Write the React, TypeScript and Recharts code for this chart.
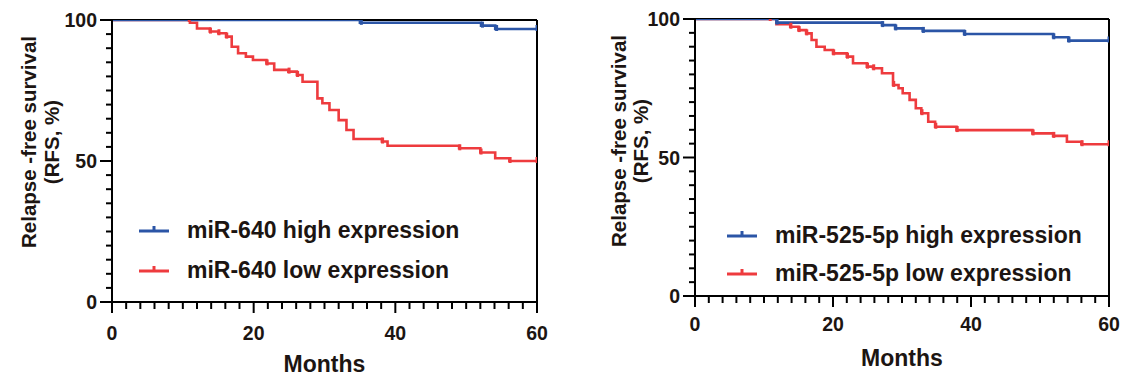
import React from "react";
import { ComposedChart, Line, Scatter, XAxis, YAxis, ReferenceLine, Label } from "recharts";

// ---------- data ----------
const xTicks = [0, 2, 4, 6, 8, 10, 12, 14, 16, 18, 20, 22, 24, 26, 28, 30, 32, 34, 36, 38, 40, 42, 44, 46, 48, 50, 52, 54, 56, 58, 60];
const yTicks = [0, 5, 10, 15, 20, 25, 30, 35, 40, 45, 50, 55, 60, 65, 70, 75, 80, 85, 90, 95, 100];

// Left panel: miR-640
const leftHighT = [0, 35, 52.1, 54.1, 60];
const leftHighS = [100, 99.0, 98.0, 96.8, 96.8];
const leftHighCensor = [35.2, 52.3, 54.3, 60];
const leftLowT = [0, 11.0, 12.0, 13.8, 15.0, 16.1, 16.9, 17.8, 18.9, 19.9, 21.8, 22.9, 24.9, 26.1, 26.9, 29.0, 29.7, 30.7, 32.0, 33.1, 34.1, 38.1, 38.9, 49.0, 52.0, 54.1, 56.1, 60];
const leftLowS = [100, 99.0, 97.0, 95.9, 95.3, 94.1, 90.5, 88.2, 87.0, 85.8, 84.6, 82.3, 81.7, 80.5, 78.1, 72.2, 70.5, 68.1, 64.5, 61.0, 57.8, 56.9, 55.4, 54.5, 53.0, 51.0, 50.0, 50.0];
const leftLowCensor = [10.9, 13.9, 15.1, 16.2, 21.9, 25.0, 26.2, 38.2, 49.1, 52.1, 56.2, 60];

// Right panel: miR-525-5p
const rightHighT = [0, 11.8, 27.1, 29.0, 33.0, 39.0, 51.9, 54.1, 60];
const rightHighS = [100, 98.7, 97.8, 96.6, 95.7, 94.6, 93.4, 92.2, 92.2];
const rightHighCensor = [11.9, 27.2, 29.1, 33.1, 39.1, 52.0, 54.2, 60];
const rightLowT = [0, 11.8, 13.8, 15.0, 16.1, 16.9, 17.6, 18.8, 20.0, 22.0, 22.9, 24.9, 25.8, 27.1, 28.7, 29.5, 30.1, 31.1, 32.0, 32.8, 33.8, 34.8, 37.9, 48.9, 51.9, 53.9, 56.0, 60];
const rightLowS = [100, 98.1, 97.2, 96.0, 94.8, 92.4, 90.0, 88.8, 87.6, 86.4, 84.0, 82.8, 82.2, 80.4, 76.2, 75.0, 73.2, 70.8, 67.8, 66.0, 62.9, 61.1, 59.9, 58.7, 57.8, 55.7, 54.8, 54.8];
const rightLowCensor = [10.9, 13.9, 15.1, 16.2, 20.1, 22.1, 25.0, 25.9, 28.8, 32.9, 34.9, 38.0, 49.0, 52.0, 56.1, 60];

const legendLeft = ["miR-640 high expression", "miR-640 low expression"];
const legendRight = ["miR-525-5p high expression", "miR-525-5p low expression"];

// ---------- helpers ----------
const BLUE = "#2b55a6";
const RED = "#ee3b3e";
const FONT = 'Arial, "Liberation Sans", Helvetica, sans-serif';
const TXT = "#1c1512";

const zip = (t: number[], s: number[]) => t.map((v, i) => ({ t: v, s: s[i] }));
const survAt = (t: number[], s: number[], c: number) => {
  let v = s[0];
  for (let i = 0; i < t.length; i++) if (t[i] <= c) v = s[i];
  return v;
};
const censorPts = (t: number[], s: number[], cs: number[]) => cs.map((c) => ({ t: c, s: survAt(t, s, c) }));

const makeCensorShape = (color: string) => (props: any) => {
  const { cx, cy } = props;
  if (cx == null || cy == null) return <g />;
  return <line x1={cx} x2={cx} y1={cy - 4} y2={cy + 2} stroke={color} strokeWidth={3} />;
};

const makeXTick = (labelOffset: number) => (props: any) => {
  const { x, y, payload } = props;
  const v = payload.value;
  const major = v % 20 === 0;
  return (
    <g>
      <line x1={x} x2={x} y1={y} y2={y + (major ? 11 : 7)} stroke="#000" strokeWidth={2} />
      {major && (
        <text x={x} y={y + labelOffset} textAnchor="middle" dominantBaseline="central" fontSize={19.5} fontWeight="bold" fontFamily={FONT} fill={TXT}>
          {v}
        </text>
      )}
    </g>
  );
};

const YTick = (props: any) => {
  const { x, y, payload } = props;
  const v = payload.value;
  const major = v % 50 === 0;
  return (
    <g>
      <line x1={x} x2={x - (major ? 12 : 6)} y1={y} y2={y} stroke="#000" strokeWidth={2} />
      {major && (
        <text x={x - 15} y={y} textAnchor="end" dominantBaseline="central" fontSize={19.5} fontWeight="bold" fontFamily={FONT} fill={TXT}>
          {v}
        </text>
      )}
    </g>
  );
};

const makeYLabel = (x1: number, x2: number, cy: number) => () => (
  <g fontFamily={FONT} fontWeight="bold" fontSize={20.5} fill={TXT}>
    <text x={x1} y={cy} textAnchor="middle" dominantBaseline="central" transform={`rotate(-90 ${x1} ${cy})`}>
      Relapse -free survival
    </text>
    <text x={x2} y={cy} textAnchor="middle" dominantBaseline="central" transform={`rotate(-90 ${x2} ${cy})`}>
      (RFS, %)
    </text>
  </g>
);

const LegendBox = ({ labels, left, top, rowH }: { labels: string[]; left: number; top: number; rowH: number }) => (
  <div style={{ position: "absolute", left, top, fontFamily: FONT, fontWeight: "bold", fontSize: 23, color: TXT }}>
    {labels.map((l, i) => (
      <div key={l} style={{ display: "flex", alignItems: "center", height: rowH }}>
        <svg width={30} height={12} style={{ display: "block" }}>
          <line x1={0} x2={30} y1={7} y2={7} stroke={i === 0 ? BLUE : RED} strokeWidth={3} />
          <line x1={15} x2={15} y1={2} y2={7} stroke={i === 0 ? BLUE : RED} strokeWidth={3} />
        </svg>
        <span style={{ marginLeft: 18, whiteSpace: "nowrap" }}>{l}</span>
      </div>
    ))}
  </div>
);

type PanelProps = {
  left: number;
  width: number;
  margin: { top: number; right: number; bottom: number; left: number };
  yAxisWidth: number;
  high: { t: number[]; s: number[]; c: number[] };
  low: { t: number[]; s: number[]; c: number[] };
  labels: string[];
  legendPos: { left: number; top: number; rowH: number };
  xLabelOffset: number;
  monthsOffset: number;
  yLabel: [number, number, number];
};

const Panel = (p: PanelProps) => (
  <div style={{ position: "absolute", left: p.left, top: 0, width: p.width, height: 378 }}>
    <ComposedChart width={p.width} height={378} margin={p.margin}>
      <XAxis
        dataKey="t"
        type="number"
        domain={[0, 60]}
        ticks={xTicks}
        interval={0}
        tickSize={0}
        tickMargin={0}
        tickLine={false}
        tick={makeXTick(p.xLabelOffset)}
        axisLine={{ stroke: "#000", strokeWidth: 2 }}
        height={60}
        allowDataOverflow
      >
        <Label
          content={(lp: any) => {
            const vb = lp.viewBox;
            const cx = vb.x + vb.width / 2;
            return (
              <text x={cx} y={vb.y + p.monthsOffset} textAnchor="middle" dominantBaseline="central" fontSize={23} fontWeight="bold" fontFamily={FONT} fill={TXT}>
                Months
              </text>
            );
          }}
        />
      </XAxis>
      <YAxis
        type="number"
        domain={[0, 100]}
        ticks={yTicks}
        interval={0}
        tickSize={0}
        tickMargin={0}
        tickLine={false}
        tick={YTick}
        axisLine={{ stroke: "#000", strokeWidth: 2 }}
        width={p.yAxisWidth}
        allowDataOverflow
      >
        <Label content={makeYLabel(p.yLabel[0], p.yLabel[1], p.yLabel[2])} />
      </YAxis>
      <ReferenceLine y={100} stroke="#000" strokeWidth={2} />
      <ReferenceLine x={60} stroke="#000" strokeWidth={2} />
      <Line data={zip(p.low.t, p.low.s)} dataKey="s" type="stepAfter" stroke={RED} strokeWidth={2.6} dot={false} isAnimationActive={false} />
      <Scatter data={censorPts(p.low.t, p.low.s, p.low.c)} dataKey="s" shape={makeCensorShape(RED)} isAnimationActive={false} />
      <Line data={zip(p.high.t, p.high.s)} dataKey="s" type="stepAfter" stroke={BLUE} strokeWidth={2.6} dot={false} isAnimationActive={false} />
      <Scatter data={censorPts(p.high.t, p.high.s, p.high.c)} dataKey="s" shape={makeCensorShape(BLUE)} isAnimationActive={false} />
    </ComposedChart>
    <LegendBox labels={p.labels} left={p.legendPos.left} top={p.legendPos.top} rowH={p.legendPos.rowH} />
  </div>
);

export default function App() {
  return (
    <div style={{ position: "absolute", left: 0, top: 0, width: 1122, height: 378, background: "#fff" }}>
      <Panel
        left={0}
        width={560}
        margin={{ top: 20, right: 23, bottom: 16, left: 0 }}
        yAxisWidth={112}
        high={{ t: leftHighT, s: leftHighS, c: leftHighCensor }}
        low={{ t: leftLowT, s: leftLowS, c: leftLowCensor }}
        labels={legendLeft}
        legendPos={{ left: 139, top: 210, rowH: 40 }}
        xLabelOffset={31}
        monthsOffset={62}
        yLabel={[28, 51, 142]}
      />
      <Panel
        left={580}
        width={540}
        margin={{ top: 19, right: 11, bottom: 22, left: 0 }}
        yAxisWidth={115}
        high={{ t: rightHighT, s: rightHighS, c: rightHighCensor }}
        low={{ t: rightLowT, s: rightLowS, c: rightLowCensor }}
        labels={legendRight}
        legendPos={{ left: 147, top: 216, rowH: 38 }}
        xLabelOffset={28}
        monthsOffset={62}
        yLabel={[38, 60, 141]}
      />
    </div>
  );
}
